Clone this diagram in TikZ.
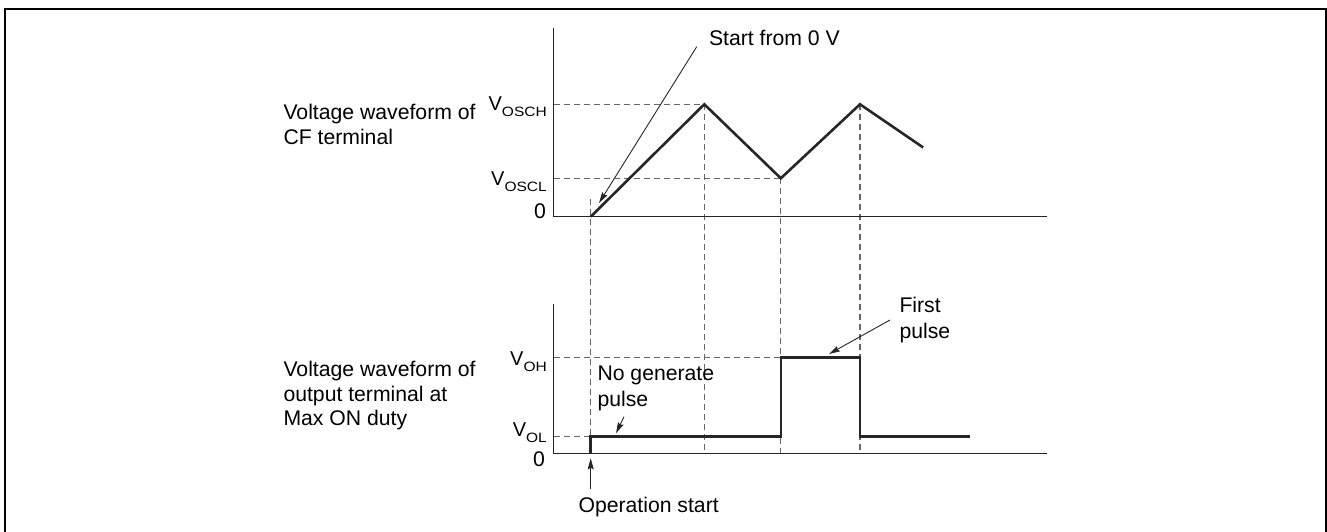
\documentclass[tikz,border=0pt]{standalone}
\usepackage{fontspec}
\setmainfont{Liberation Sans}
\usepackage{graphicx}
\usetikzlibrary{arrows.meta}
\newcommand{\lsub}[1]{\raisebox{-6pt}{\fontsize{13.5}{13.5}\selectfont\scalebox{1.15}[1]{#1}}}
\newcommand{\lines}[1]{\begin{tabular}[t]{@{}l@{}}#1\end{tabular}}
\begin{document}
\begin{tikzpicture}[x=1pt,y=-1pt,
  frame/.style={line width=2.4pt},
  axis/.style={line width=1.4pt, draw=black!85},
  wave/.style={line width=2.6pt, draw=black!85, line join=miter},
  guide/.style={line width=1.1pt, draw=black!60, dash pattern=on 6pt off 4pt},
  callout/.style={line width=0.9pt, draw=black!85, -{Stealth[length=11pt,width=6pt,inset=1.5pt]}},
  txt/.style={inner sep=0pt, font=\fontsize{21.2}{24.5}\selectfont},
  ctxt/.style={inner sep=0pt, font=\fontsize{21.2}{26}\selectfont},
  vlab/.style={inner sep=0pt, anchor=base east, font=\fontsize{20}{20}\selectfont}]
\useasboundingbox (0,0) rectangle (1327,532);
% frame
\draw[frame] (5,532) -- (5,9) -- (1326,9) -- (1326,532);

% ---------- top plot ----------
\coordinate (ty) at (553.5,28);
\coordinate (to) at (553.5,216.7);
\coordinate (tx) at (1047,216.7);
\coordinate (s0) at (590.7,216.7);
\coordinate (p1) at (704.3,104.3);
\coordinate (v1) at (780.8,178.3);
\coordinate (p2) at (860,104.3);
\coordinate (e1) at (923.2,147.5);
\coordinate (hA) at (553.5,104.3);
\coordinate (lA) at (553.5,178.3);

% ---------- bottom plot ----------
\coordinate (by) at (553.5,304);
\coordinate (bo) at (553.5,453.3);
\coordinate (bx) at (1047,453.3);
\coordinate (o0) at (590.7,453.3);
\coordinate (o1) at (590.7,436.3);
\coordinate (o2) at (781,436.3);
\coordinate (o3) at (781,357.5);
\coordinate (o4) at (860,357.5);
\coordinate (o5) at (860,436.3);
\coordinate (o6) at (970.4,436.3);
\coordinate (hB) at (553.5,357.5);
\coordinate (lB) at (553.5,436.3);

% guides
\draw[guide] (hA) -- (p1);
\draw[guide] (lA) -- (v1);
\draw[guide] (590.7,199) -- (o1);
\draw[guide] (p1) -- (704.3,453.3);
\draw[guide] (v1) -- (780.8,453.3);
\draw[guide] (p2) -- (860,453.3);
\draw[guide] (hB) -- (o3);
\draw[guide] (lB) -- (o1);

% axes
\draw[axis] (ty) -- (to) -- (tx);
\draw[axis] (by) -- (bo) -- (bx);

% waveforms
\draw[wave] (s0) -- (p1) -- (v1) -- (p2) -- (e1);
\draw[wave] (o0) -- (o1) -- (o2) -- (o3) -- (o4) -- (o5) -- (o6);

% axis labels
\node[vlab] (vosch) at (547,110.7) {V\lsub{OSCH}};
\node[vlab] (voscl) at (547,185) {V\lsub{OSCL}};
\node[txt, anchor=base east] (zt) at (546,218.3) {0};
\node[vlab] (voh) at (547,365) {V\lsub{OH}};
\node[vlab] (vol) at (547,436.7) {V\lsub{OL}};
\node[txt, anchor=base east] (zb) at (545,466.7) {0};

% side texts
\node[txt, anchor=base west] (cfl) at (283.3,120) {\lines{Voltage waveform of\\CF terminal}};
\node[txt, anchor=base west] (outl) at (283.3,376.7) {\lines{Voltage waveform of\\output terminal at\\Max ON duty}};

% callouts
\node[txt, anchor=base west] (sfz) at (708.8,45.7) {Start from 0 V};
\coordinate (sfzA) at (696.7,46.7);
\coordinate (sfzB) at (599,203);
\draw[callout] (sfzA) -- (sfzB);

\node[ctxt, anchor=base west] (ngp) at (597.3,380.7) {\lines{No generate\\pulse}};
\coordinate (ngpA) at (624,416.7);
\coordinate (ngpB) at (616,433.3);
\draw[callout] (ngpA) -- (ngpB);

\node[ctxt, anchor=base west] (fp) at (899.3,312.3) {\lines{First\\pulse}};
\coordinate (fpA) at (890,320);
\coordinate (fpB) at (829,354);
\draw[callout] (fpA) -- (fpB);

\node[txt, anchor=base west] (ops) at (578.3,512.7) {Operation start};
\coordinate (opsA) at (590.7,489.3);
\coordinate (opsB) at (590.7,458.3);
\draw[callout] (opsA) -- (opsB);
\end{tikzpicture}
\end{document}
